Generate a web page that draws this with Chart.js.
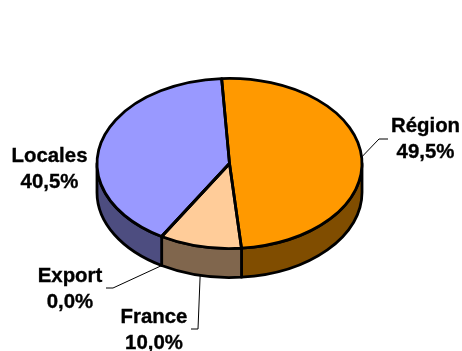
<!DOCTYPE html>
<html>
<head>
<meta charset="utf-8">
<style>
    html, body { margin: 0; padding: 0; background: #fff; }
    canvas { display: block; }
</style>
<script src="https://cdn.jsdelivr.net/npm/chart.js@4"></script>
</head>
<body>
<canvas id="pie" width="462" height="351"></canvas>
<script>
const categories = ["Région", "France", "Export", "Locales"];
const shares = [49.5, 10.0, 0.0, 40.5];
const topColors = ["#FF9900", "#FFCC99", "#CCCCFF", "#9999FF"];
const sideColors = ["#804D00", "#80664D", "#666680", "#4D4D80"];

// label centre, first baseline and leader elbow, same order as the categories
const labelSpots = [
    { x: 425.5, y: 132, elbow: [[379, 139], [388, 139]], edge: "top" },
    { x: 154, y: 323, elbow: [[198, 329], [191, 329]], edge: "wall" },
    { x: 70, y: 282, elbow: [[113, 288], [106, 288]], edge: "wall" },
    { x: 49.5, y: 162, elbow: null, edge: "top" },
];

const squash = 0.642;
const depth = 29;
const lineHeight = 26;
const outlineWidth = 2.8;

function formatShare(v) {
    return v.toFixed(1).replace(".", ",") + "%";
}

// traces one slice of the flattened top face
function slicePath(ctx, arc) {
    const ry = arc.outerRadius * squash;
    ctx.beginPath();
    ctx.moveTo(arc.x, arc.y);
    ctx.ellipse(arc.x, arc.y, arc.outerRadius, ry, 0, arc.startAngle, arc.endAngle);
    ctx.closePath();
}

// the rim is only visible on the front half of the pie
function drawWalls(ctx, arcs) {
    arcs.forEach((arc, i) => {
        const from = Math.max(arc.startAngle, 0);
        const to = Math.min(arc.endAngle, Math.PI);
        if (to <= from) return;
        const ry = arc.outerRadius * squash;
        ctx.beginPath();
        ctx.ellipse(arc.x, arc.y, arc.outerRadius, ry, 0, from, to);
        ctx.ellipse(arc.x, arc.y + depth, arc.outerRadius, ry, 0, to, from, true);
        ctx.closePath();
        ctx.fillStyle = sideColors[i];
        ctx.fill();
        ctx.stroke();
    });
}

function drawLabels(ctx, arcs) {
    arcs.forEach((arc, i) => {
        const spot = labelSpots[i];
        if (spot.elbow) {
            const mid = (arc.startAngle + arc.endAngle) / 2;
            const ry = arc.outerRadius * squash;
            const sx = arc.x + Math.cos(mid) * arc.outerRadius;
            let sy = arc.y + Math.sin(mid) * ry;
            if (spot.edge === "wall") sy += depth;
            ctx.beginPath();
            ctx.moveTo(sx, sy);
            spot.elbow.forEach((p) => ctx.lineTo(p[0], p[1]));
            ctx.lineWidth = 1;
            ctx.strokeStyle = "#000";
            ctx.stroke();
        }
        ctx.fillStyle = "#000";
        ctx.strokeStyle = "#000";
        ctx.lineWidth = 0.35;
        ctx.font = "bold 20.4px 'Liberation Sans', Arial, sans-serif";
        ctx.textAlign = "center";
        ctx.textBaseline = "alphabetic";
        [categories[i], formatShare(shares[i])].forEach((line, n) => {
            ctx.fillText(line, spot.x, spot.y + n * lineHeight);
            ctx.strokeText(line, spot.x, spot.y + n * lineHeight);
        });
    });
}

const tiltedPie = {
    id: "tiltedPie",
    beforeDatasetDraw(chart, args) {
        const ctx = chart.ctx;
        const arcs = chart.getDatasetMeta(args.index).data;
        ctx.save();
        ctx.lineWidth = outlineWidth;
        ctx.lineJoin = "round";
        ctx.strokeStyle = "#000";
        drawWalls(ctx, arcs);
        ctx.restore();

        // flatten the library's arcs into an ellipse
        ctx.save();
        ctx.translate(arcs[0].x, arcs[0].y);
        ctx.scale(1, squash);
        ctx.translate(-arcs[0].x, -arcs[0].y);
    },
    afterDatasetDraw(chart, args) {
        const ctx = chart.ctx;
        const arcs = chart.getDatasetMeta(args.index).data;
        ctx.restore();

        // outlines go on after the transform is gone so the pen stays round
        ctx.save();
        ctx.lineWidth = outlineWidth;
        ctx.lineJoin = "round";
        ctx.strokeStyle = "#000";
        arcs.forEach((arc) => {
            slicePath(ctx, arc);
            ctx.stroke();
        });
        ctx.restore();

        ctx.save();
        drawLabels(ctx, arcs);
        ctx.restore();
    },
};

new Chart(document.querySelector("#pie"), {
    type: "pie",
    data: {
        labels: categories,
        datasets: [
            {
                data: shares,
                backgroundColor: topColors,
                borderWidth: 0,
                clip: false,
            },
        ],
    },
    options: {
        responsive: false,
        animation: false,
        rotation: -3.4,
        layout: { padding: { left: 97, right: 100, top: 31, bottom: 55 } },
        plugins: {
            legend: { display: false },
            tooltip: { enabled: false },
        },
    },
    plugins: [tiltedPie],
});
</script>
</body>
</html>
